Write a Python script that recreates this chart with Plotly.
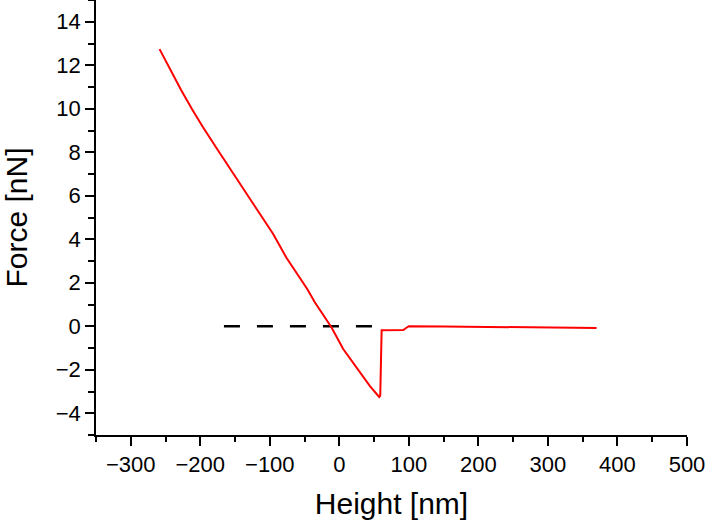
import plotly.graph_objects as go

# Force curve
height_nm = [-258.6, -243.0, -227.4, -211.8, -196.3, -175.8, -155.3, -136.2, -121.8, -108.6, -95.4, -76.1, -56.9,
             -46.0, -35.3, -23.2, -11.2, 5.5, 29.5, 44.0, 57.3, 58.8, 60.8, 75, 92, 96, 100,
             150, 200, 250, 300, 350, 370]
force_nN = [12.74, 11.78, 10.85, 9.98, 9.16, 8.15, 7.17, 6.20, 5.55, 4.92, 4.25, 3.15, 2.25,
            1.70, 1.10, 0.52, -0.06, -1.05, -2.13, -2.75, -3.25, -3.2, -0.18, -0.17, -0.17, -0.08, 0.0,
            -0.01, -0.03, -0.04, -0.05, -0.06, -0.08]

# Zero reference (dashed)
zero_x = [-166, 50]
zero_y = [0, 0]

fig = go.Figure()
fig.add_trace(go.Scatter(x=zero_x, y=zero_y, mode="lines",
                         line=dict(color="black", width=2.5, dash="16px,17px"),
                         showlegend=False))
fig.add_trace(go.Scatter(x=height_nm, y=force_nN, mode="lines",
                         line=dict(color="#ff0000", width=2),
                         showlegend=False))

font = "Liberation Sans, Arial, sans-serif"
fig.update_layout(
    width=708, height=524,
    margin=dict(l=96, r=21, t=0, b=89),
    plot_bgcolor="white", paper_bgcolor="white",
    font=dict(family=font, color="black"),
)
fig.update_xaxes(
    range=[-350, 500], dtick=100, tick0=0,
    automargin=False,
    showline=True, linecolor="black", linewidth=1.5,
    ticks="outside", ticklen=9, tickwidth=1.5, tickcolor="black",
    minor=dict(dtick=50, tick0=0, ticks="outside", ticklen=5, tickwidth=1.5, tickcolor="black"),
    showgrid=False, zeroline=False,
    tickfont=dict(size=22),
    title=dict(text="Height [nm]", font=dict(size=30), standoff=17),
)
fig.update_yaxes(
    range=[-5, 15], dtick=2, tick0=0,
    automargin=False,
    showline=True, linecolor="black", linewidth=1.5,
    ticks="outside", ticklen=9, tickwidth=1.5, tickcolor="black",
    minor=dict(dtick=1, tick0=0, ticks="outside", ticklen=6, tickwidth=1.5, tickcolor="black"),
    showgrid=False, zeroline=False,
    tickfont=dict(size=22),
    title=dict(text="Force [nN]", font=dict(size=30), standoff=24),
)

fig.write_html("out.html", config={"displayModeBar": False},
               post_script="document.body.style.margin='0';document.body.style.overflow='hidden';")
